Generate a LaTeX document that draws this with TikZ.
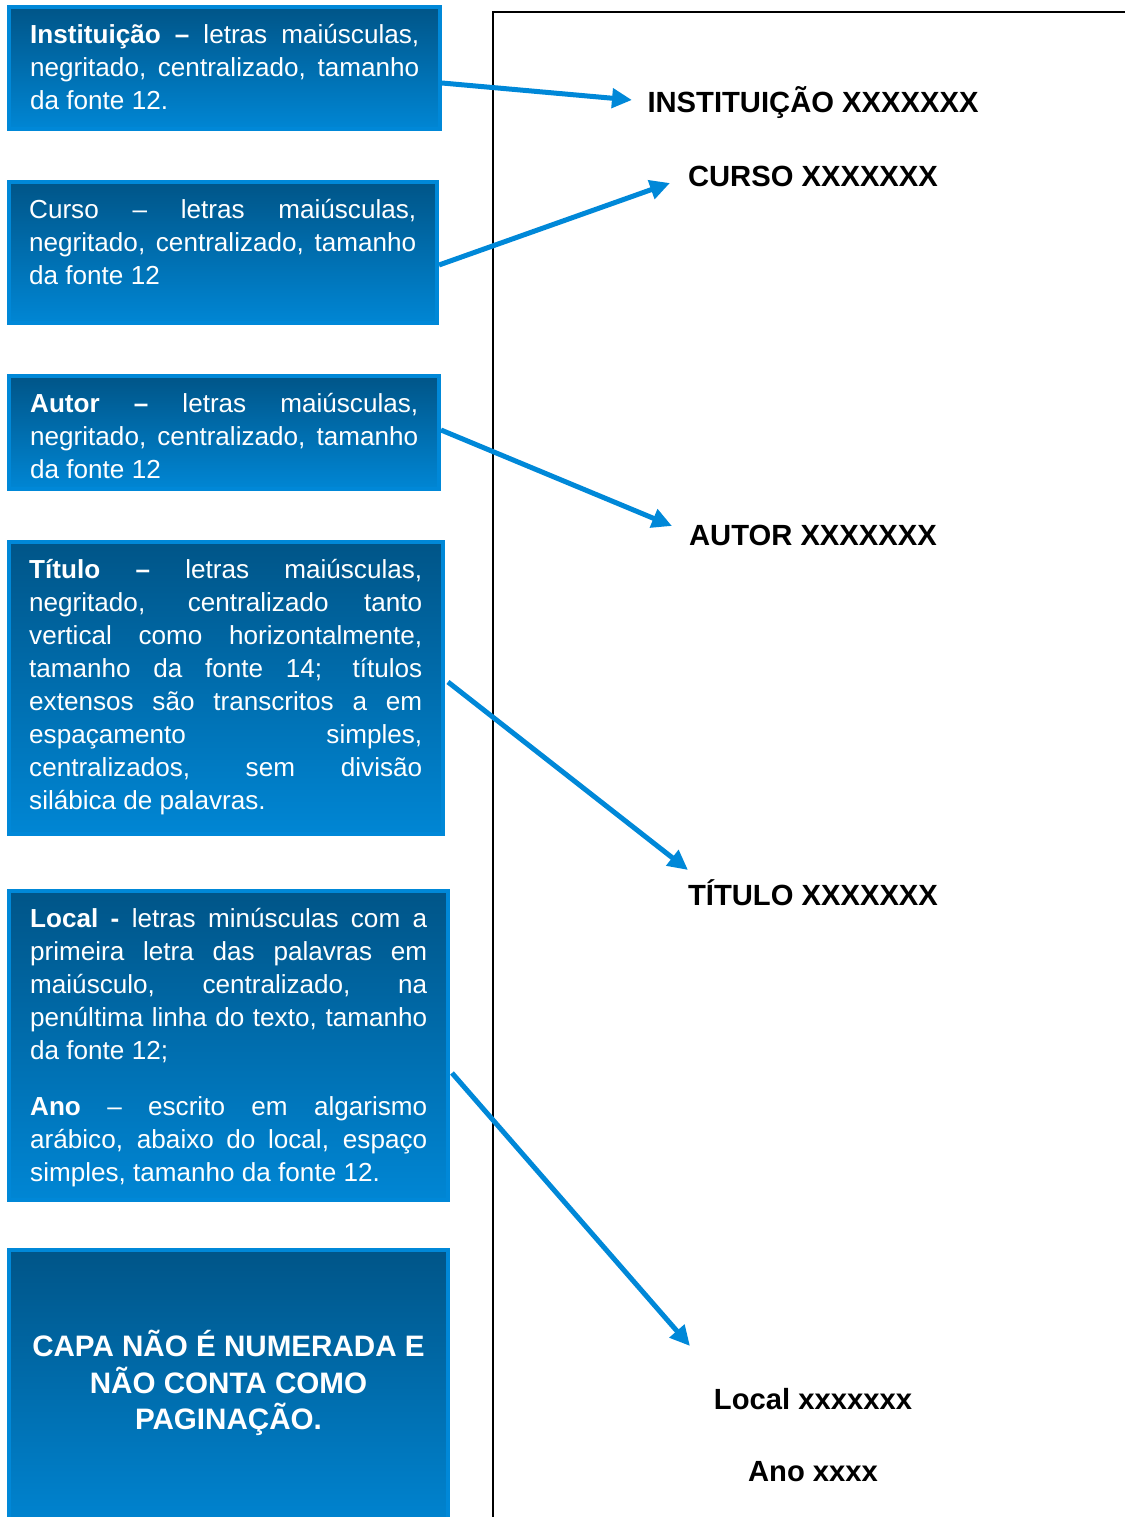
\documentclass[tikz,border=0pt]{standalone}
\usepackage{fontspec}
\setmainfont{Liberation Sans}
\usetikzlibrary{arrows.meta}
\definecolor{bxtop}{HTML}{005588}
\definecolor{bxbot}{HTML}{0086D4}
\definecolor{bxline}{HTML}{0088D8}
\newcommand\jline[2]{\makebox[#1][s]{#2}}
\newcommand\fst{\rule{0pt}{24pt}}
\begin{document}
\begin{tikzpicture}[x=1pt,y=-1pt,
  bx/.style={rectangle, draw=bxline, line width=4pt, top color=bxtop, bottom color=bxbot, inner sep=0pt},
  txt/.style={anchor=north west, inner sep=0pt, text=white, font=\fontsize{26.1}{33}\selectfont, align=left},
  pg/.style={anchor=base, inner sep=0pt, font=\fontsize{29.2}{33}\selectfont\bfseries},
  arr/.style={draw=bxline, line width=5pt, -{Triangle[length=20pt,width=19pt]}}]
\useasboundingbox (0,0) rectangle (1124,1517);

% page outline
\draw[line width=2pt] (1140,12) -- (493,12) -- (493,1540);

% boxes
\node[bx, minimum width=431pt, minimum height=122pt] (b1) at (224.5,68) {};
\node[bx, minimum width=428pt, minimum height=141pt] (b2) at (223,252.5) {};
\node[bx, minimum width=430pt, minimum height=113pt] (b3) at (224,432.5) {};
\node[bx, minimum width=434pt, minimum height=292pt] (b4) at (226,688) {};
\node[bx, minimum width=439pt, minimum height=309pt] (b5) at (228.5,1045.5) {};
\node[bx, minimum width=439pt, minimum height=288pt] (b6) at (228.5,1394) {};

% box texts
\node[txt] (x1) at (30,19) {\fst\jline{389pt}{\textbf{Instituição –} letras maiúsculas,}\\
\jline{389pt}{negritado, centralizado, tamanho}\\
da fonte 12.};
\node[txt] (x2) at (29,194) {\fst\jline{387pt}{Curso – letras maiúsculas,}\\
\jline{387pt}{negritado, centralizado, tamanho}\\
da fonte 12};
\node[txt] (x3) at (30,388) {\fst\jline{388pt}{\textbf{Autor –} letras maiúsculas,}\\
\jline{388pt}{negritado, centralizado, tamanho}\\
da fonte 12};
\node[txt] (x4) at (29,554) {\fst\jline{393pt}{\textbf{Título –} letras maiúsculas,}\\
\jline{393pt}{negritado, centralizado tanto}\\
\jline{393pt}{vertical como horizontalmente,}\\
\jline{393pt}{tamanho da fonte 14; títulos}\\
\jline{393pt}{extensos são transcritos a em}\\
\jline{393pt}{espaçamento simples,}\\
\jline{393pt}{centralizados, sem divisão}\\
silábica de palavras.};
\node[txt] (x5) at (30,903) {\fst\jline{397pt}{\textbf{Local -} letras minúsculas com a}\\
\jline{397pt}{primeira letra das palavras em}\\
\jline{397pt}{maiúsculo, centralizado, na}\\
\jline{397pt}{penúltima linha do texto, tamanho}\\
da fonte 12;};
\node[txt] (x6) at (30,1091) {\fst\jline{397pt}{\textbf{Ano} – escrito em algarismo}\\
\jline{397pt}{arábico, abaixo do local, espaço}\\
simples, tamanho da fonte 12.};
\node[inner sep=0pt, text=white, align=center, font=\fontsize{29.6}{36.5}\selectfont\bfseries] (x7) at (228.5,1383)
  {CAPA NÃO É NUMERADA E\\NÃO CONTA COMO\\PAGINAÇÃO.};

% page texts
\node[pg] (t1) at (813,113) {INSTITUIÇÃO XXXXXXX};
\node[pg] (t2) at (813,186) {CURSO XXXXXXX};
\node[pg] (t3) at (813,545) {AUTOR XXXXXXX};
\node[pg] (t4) at (813,905) {TÍTULO XXXXXXX};
\node[pg] (t5) at (813,1409) {Local xxxxxxx};
\node[pg] (t6) at (813,1481) {Ano xxxx};

% arrow tips
\coordinate (e1) at (632,100);
\coordinate (e2) at (670,183);
\coordinate (e3) at (672,526);
\coordinate (e4) at (688,870);
\coordinate (e5) at (690,1346);

\draw[arr] ([yshift=-15pt]b1.east) -- (e1);
\draw[arr] ([yshift=-12.5pt]b2.east) -- (e2);
\draw[arr] ([yshift=2.5pt]b3.east) -- (e3);
\draw[arr] ([yshift=6pt,xshift=3pt]b4.east) -- (e4);
\draw[arr] ([yshift=-27.5pt,xshift=2pt]b5.east) -- (e5);
\end{tikzpicture}
\end{document}
